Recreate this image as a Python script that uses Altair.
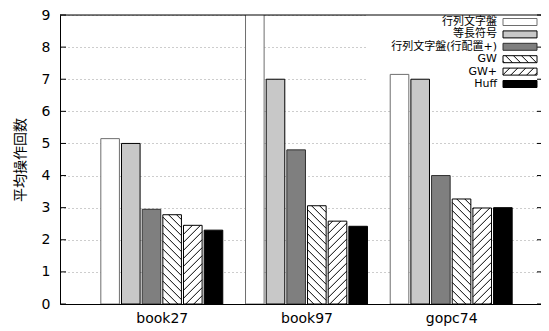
import altair as alt
import pandas as pd

# ---------------- data ----------------
groups = ["book27", "book97", "gopc74"]
series = ["行列文字盤", "等長符号", "行列文字盤(行配置+)", "GW", "GW+", "Huff"]
v_matrix = [5.15, 9.6, 7.15]
v_fixed = [5.0, 7.0, 7.0]
v_matrix_plus = [2.95, 4.8, 4.0]
v_gw = [2.78, 3.06, 3.27]
v_gwplus = [2.45, 2.58, 2.99]
v_huff = [2.3, 2.42, 3.0]
y_ticks = list(range(10))

# ---------------- styles ----------------
fills = ["#ffffff", "#c8c8c8", "#7f7f7f", "#ffffff", "#ffffff", "#000000"]
strokes = ["#6e6e6e", "#000000", "#303030", "#000000", "#000000", "#000000"]
hatch_dir = [0, 0, 0, -1, 1, 0]   # -1 = "\\", 1 = "/"

# ---------------- layout ----------------
W, H = 481, 289
PL, PT = 60, 15          # page coords of plot left / top
PB = PT + H              # page coord of plot bottom
PXX = 144.7              # px per group
XMIN = -0.7035
XMAX = XMIN + W / PXX
YMAX = 9
PXY = H / YMAX
N = len(series)
SLOT = 1 / (N + 1)
BW = SLOT * 0.9
S = 8.0                  # hatch spacing (px)

LEG_TX = 497
LEG_SX0, LEG_SX1 = 503, 537
LEG_Y0, LEG_DY = 22, 12.4
LEG_SH = 7
BG = (366, PL + W - 1, PT, 90)
LEG_FONT = "DejaVu Sans, Noto Sans CJK JP"

def xd(px):
    return XMIN + (px - PL) / PXX

def yd(py):
    return (PB - py) / PXY

vals = [v_matrix, v_fixed, v_matrix_plus, v_gw, v_gwplus, v_huff]
rows = []
for si, s in enumerate(series):
    for gi, g in enumerate(groups):
        rows.append({"group": g, "gi": gi, "series": s, "si": si,
                     "value": vals[si][gi], "dir": hatch_dir[si]})
bars_df = pd.DataFrame(rows)
leg_df = pd.DataFrame({"series": series, "idx": list(range(N)), "dir": hatch_dir})

xscale = alt.Scale(domain=[XMIN, XMAX], nice=False, zero=False)
yscale = alt.Scale(domain=[0, YMAX], nice=False)
fill_scale = alt.Scale(domain=series, range=fills)
stroke_scale = alt.Scale(domain=series, range=strokes)

label_expr = "[" + ",".join("'%s'" % g for g in groups) + "][datum.value]"
xaxis = alt.Axis(values=[0, 1, 2], labelExpr=label_expr, grid=False, ticks=False,
                 tickSize=0, labelPadding=7, labelFont="DejaVu Sans", labelFontSize=14,
                 labelColor="black", domainColor="black", domainWidth=1, title=None,
                 labelFlush=False)
yaxis = alt.Axis(values=y_ticks, grid=True, gridColor="#9a9a9a", gridDash=[1, 3],
                 ticks=False, tickSize=0, labelPadding=10, labelFont="DejaVu Sans",
                 labelFontSize=14, labelColor="black", domainColor="black", domainWidth=1,
                 title="平均操作回数", titleFont="Noto Sans CJK JP", titleFontSize=14,
                 titleFontWeight="normal", titleColor="black", titleAngle=270,
                 titleX=-40, titleY=H / 2, titleAlign="center", titleBaseline="middle")


def X(f):
    return alt.X(f, scale=xscale, axis=xaxis)


def Y(f):
    return alt.Y(f, scale=yscale, axis=yaxis)


def hatch(chart):
    kx, ky = PXX, PXY
    return chart.transform_filter("datum.dir != 0").transform_calculate(
        X0=f"datum.x0*{kx}", X1=f"datum.x1*{kx}",
        Y0=f"datum.y0*{ky}", Y1=f"datum.y1*{ky}",
        cmin="datum.dir > 0 ? (datum.Y0 - datum.X1) : (datum.Y0 + datum.X0)",
        cmax="datum.dir > 0 ? (datum.Y1 - datum.X0) : (datum.Y1 + datum.X1)",
        ks=f"sequence(ceil(datum.cmin/{S}), floor(datum.cmax/{S}) + 1)",
    ).transform_flatten(["ks"], as_=["k"]).transform_calculate(
        c=f"datum.k*{S}",
        xa="datum.dir > 0 ? max(datum.X0, datum.Y0 - datum.c) : max(datum.X0, datum.c - datum.Y1)",
        xb="datum.dir > 0 ? min(datum.X1, datum.Y1 - datum.c) : min(datum.X1, datum.c - datum.Y0)",
    ).transform_calculate(
        ya="datum.dir > 0 ? datum.xa + datum.c : datum.c - datum.xa",
        yb="datum.dir > 0 ? datum.xb + datum.c : datum.c - datum.xb",
    ).transform_filter("datum.xb - datum.xa > 0.5").transform_calculate(
        hx0=f"datum.xa/{kx}", hx1=f"datum.xb/{kx}",
        hy0=f"datum.ya/{ky}", hy1=f"datum.yb/{ky}",
    ).mark_rule(color="black", strokeWidth=1, clip=True).encode(
        x=X("hx0:Q"), x2="hx1:Q", y=Y("hy0:Q"), y2="hy1:Q"
    )


# legend background (under the bars, over the grid)
bg = alt.Chart(pd.DataFrame({"k": [0]})).transform_calculate(
    x0=str(xd(BG[0])), x1=str(xd(BG[1])), y0=str(yd(BG[3])), y1=str(yd(BG[2]))
).mark_rect(fill="white", strokeWidth=0).encode(
    x=X("x0:Q"), x2="x1:Q", y=Y("y0:Q"), y2="y1:Q")

# bars
bar_base = alt.Chart(bars_df).transform_calculate(
    xc=f"datum.gi + (datum.si - {(N - 1) / 2})*{SLOT}"
).transform_calculate(
    x0=f"datum.xc - {BW / 2}", x1=f"datum.xc + {BW / 2}", y0="0", y1="datum.value"
)
bars = bar_base.mark_rect(clip=True, strokeWidth=1).encode(
    x=X("x0:Q"), x2="x1:Q", y=Y("y0:Q"), y2="y1:Q",
    fill=alt.Fill("series:N", scale=fill_scale, legend=None),
    stroke=alt.Stroke("series:N", scale=stroke_scale, legend=None),
)
bar_hatch = hatch(bar_base)

# frame pieces
tick_df = pd.DataFrame({"t": y_ticks})
ticks_l = alt.Chart(tick_df).mark_rule(color="black").encode(
    y=Y("t:Q"), x=alt.value(0), x2=alt.value(6))
ticks_r = alt.Chart(tick_df).mark_rule(color="black").encode(
    y=Y("t:Q"), x=alt.value(W - 4), x2=alt.value(W))
top_line = alt.Chart(pd.DataFrame({"t": [YMAX]})).mark_rule(color="black").encode(y=Y("t:Q"))

# legend
leg_base = alt.Chart(leg_df).transform_calculate(
    yc=f"({PB} - ({LEG_Y0} + datum.idx*{LEG_DY}))/{PXY}"
).transform_calculate(
    tx=str(xd(LEG_TX)), x0=str(xd(LEG_SX0)), x1=str(xd(LEG_SX1)),
    y0=f"datum.yc - {LEG_SH / 2 / PXY}", y1=f"datum.yc + {LEG_SH / 2 / PXY}"
)
leg_text = leg_base.mark_text(
    align="right", baseline="middle", font=LEG_FONT, fontSize=11, color="black"
).encode(x=X("tx:Q"), y=Y("yc:Q"), text="series:N")
leg_rect = leg_base.mark_rect(strokeWidth=1).encode(
    x=X("x0:Q"), x2="x1:Q", y=Y("y0:Q"), y2="y1:Q",
    fill=alt.Fill("series:N", scale=fill_scale, legend=None),
    stroke=alt.Stroke("series:N", scale=stroke_scale, legend=None),
)
leg_hatch = hatch(leg_base)

chart = alt.layer(
    bg, bars, bar_hatch, ticks_l, ticks_r, top_line, leg_rect, leg_hatch, leg_text
).properties(
    width=W, height=H,
    autosize=alt.AutoSizeParams(type="none"),
    padding={"left": PL - 8, "top": PT - 8, "right": 0, "bottom": 23},
).configure_view(stroke=None).configure(background="white")

chart.save("out.html", embed_options={"renderer": "svg", "actions": False})
